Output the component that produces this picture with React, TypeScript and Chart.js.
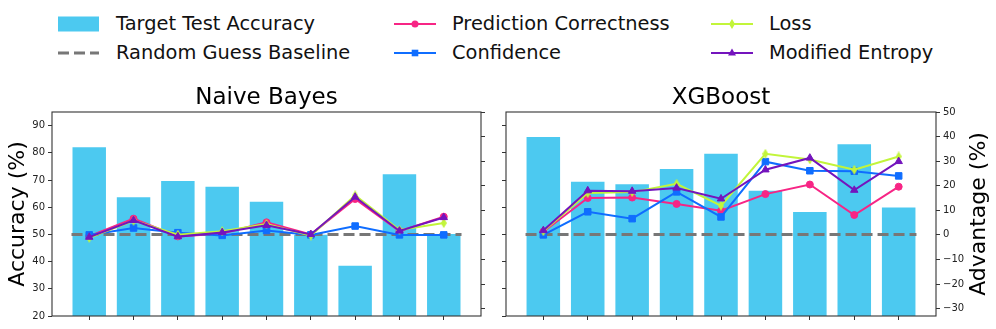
import React, { useEffect, useRef } from 'react';
import { Chart, registerables } from 'chart.js';

Chart.register(...registerables);

// ---------- data ----------
const CATEGORIES = ['D1', 'D2', 'D3', 'D4', 'D5', 'D6', 'D7', 'D8', 'D9'];
const ACC_TICKS = [20, 30, 40, 50, 60, 70, 80, 90];
const ADV_TICKS = [-30, -20, -10, 0, 10, 20, 30, 40, 50];
const BASELINE_ACC = 50;

const NB_ACCURACY = [82.4, 64.0, 70.0, 67.9, 62.4, 50.2, 38.8, 72.5, 50.5];
const NB_PRED_CORRECT = [-0.5, 6.6, -0.6, 0.6, 5.1, 0.2, 14.6, 1.5, 7.4];
const NB_CONFIDENCE = [0.0, 2.8, 0.9, -0.2, 1.8, 0.0, 3.6, 0.0, 0.0];
const NB_LOSS = [-1.2, 5.8, 0.1, 1.5, 4.4, -0.3, 16.1, 2.0, 4.8];
const NB_MOD_ENTROPY = [-0.9, 5.9, -0.7, 1.0, 3.9, 0.2, 15.4, 1.6, 7.1];

const XGB_ACCURACY = [86.2, 69.7, 68.8, 74.4, 80.0, 66.4, 58.6, 83.5, 60.3];
const XGB_PRED_CORRECT = [1.3, 15.0, 15.2, 12.6, 9.8, 16.6, 20.5, 8.1, 19.6];
const XGB_CONFIDENCE = [0.0, 9.4, 6.6, 17.5, 7.3, 29.8, 26.1, 25.9, 24.0];
const XGB_LOSS = [1.5, 17.0, 17.4, 20.8, 11.9, 33.0, 30.7, 26.5, 31.9];
const XGB_MOD_ENTROPY = [1.8, 18.0, 17.8, 19.1, 14.7, 26.5, 31.3, 18.2, 29.9];

// ---------- style ----------
const FONT = "'DejaVu Sans', 'Liberation Sans', sans-serif";
const C_BAR = '#4cc9f0';
const C_PC = '#f72585';
const C_CONF = '#0f6dff';
const C_LOSS = '#c2f53a';
const C_ME = '#7414bd';
const C_BASE = '#777777';
const C_AXIS = '#333333';

function thinDiamond(color: string) {
  const c = document.createElement('canvas');
  c.width = 6;
  c.height = 10;
  const ctx = c.getContext('2d')!;
  ctx.fillStyle = color;
  ctx.beginPath();
  ctx.moveTo(3, 0);
  ctx.lineTo(6, 5);
  ctx.lineTo(3, 10);
  ctx.lineTo(0, 5);
  ctx.closePath();
  ctx.fill();
  return c;
}

const framePlugin = {
  id: 'frame',
  afterDraw(chart: any) {
    const { ctx, chartArea: a } = chart;
    ctx.save();
    ctx.strokeStyle = C_AXIS;
    ctx.lineWidth = 1.1;
    ctx.strokeRect(a.left, a.top, a.right - a.left, a.bottom - a.top);
    ctx.restore();
  },
};

const rightTitlePlugin = {
  id: 'rightTitle',
  afterDraw(chart: any) {
    const { ctx, chartArea: a } = chart;
    ctx.save();
    ctx.translate(chart.width - 17, (a.top + a.bottom) / 2);
    ctx.rotate(-Math.PI / 2);
    ctx.font = `22px ${FONT}`;
    ctx.fillStyle = '#000';
    ctx.textAlign = 'center';
    ctx.textBaseline = 'middle';
    ctx.fillText('Advantage (%)', 0, 0);
    ctx.restore();
  },
};

const CW = 498;
const CH = 251;

function buildConfig(
  title: string,
  acc: number[],
  pc: number[],
  conf: number[],
  loss: number[],
  me: number[],
  side: 'left' | 'right'
) {
  const pts = (arr: number[]) => arr.map((v, i) => ({ x: i, y: v }));
  const n = CATEGORIES.length;
  const half = 0.4;
  const margin = 0.05 * (n - 1 + 2 * half);
  const xMin = -half - margin;
  const xMax = n - 1 + half + margin;
  const tickFont = { family: FONT, size: 10 };
  const lineDs = (label: string, data: number[], color: string, style: any, radius: number, order: number) => ({
    type: 'line',
    label,
    data: pts(data),
    yAxisID: 'y2',
    borderColor: color,
    backgroundColor: color,
    borderWidth: 2,
    pointStyle: style,
    pointRadius: radius,
    pointBorderWidth: 1,
    pointBorderColor: color,
    pointBackgroundColor: color,
    tension: 0,
    order,
  });
  return {
    type: 'bar',
    data: {
      datasets: [
        {
          type: 'bar',
          label: 'Target Test Accuracy',
          data: pts(acc),
          yAxisID: 'y',
          backgroundColor: C_BAR,
          borderColor: 'rgba(255,255,255,0.45)',
          borderWidth: 1,
          barPercentage: 0.8,
          categoryPercentage: 1,
          order: 10,
        },
        {
          type: 'line',
          label: 'Random Guess Baseline',
          data: [
            { x: -half, y: BASELINE_ACC },
            { x: n - 1 + half, y: BASELINE_ACC },
          ],
          yAxisID: 'y',
          borderColor: C_BASE,
          borderWidth: 3,
          borderDash: [11, 5],
          pointRadius: 0,
          order: 9,
        },
        lineDs('Prediction Correctness', pc, C_PC, 'circle', 3.5, 4),
        lineDs('Confidence', conf, C_CONF, 'rect', 4.6, 3),
        lineDs('Loss', loss, C_LOSS, thinDiamond(C_LOSS), 4, 2),
        lineDs('Modified Entropy', me, C_ME, 'triangle', 4.3, 1),
      ],
    },
    options: {
      animation: false,
      responsive: false,
      maintainAspectRatio: false,
      layout: { padding: 0 },
      plugins: {
        legend: { display: false },
        tooltip: { enabled: false },
        title: {
          display: true,
          text: title,
          fullSize: false,
          color: '#000',
          font: { family: FONT, size: 23, weight: 'normal', lineHeight: 1.2 },
          padding: { top: 6, bottom: 0.4 },
        },
      },
      scales: {
        x: {
          type: 'linear',
          min: xMin,
          max: xMax,
          offset: false,
          afterBuildTicks: (s: any) => {
            s.ticks = CATEGORIES.map((_, i) => ({ value: i }));
          },
          afterFit: (s: any) => {
            s.height = 13;
          },
          ticks: { callback: () => '', maxRotation: 0, autoSkip: false, font: tickFont },
          grid: { drawOnChartArea: false, drawTicks: true, tickLength: 4, color: C_AXIS, offset: false },
          border: { display: false },
        },
        y: {
          type: 'linear',
          position: 'left',
          min: 20,
          max: 95,
          afterBuildTicks: (s: any) => {
            s.ticks = ACC_TICKS.map((v) => ({ value: v }));
          },
          afterFit: (s: any) => {
            s.width = side === 'left' ? 52 : 8;
          },
          ticks: {
            font: tickFont,
            color: '#222',
            padding: 3,
            callback: (v: any) => (side === 'left' ? String(v) : ''),
          },
          grid: { drawOnChartArea: false, drawTicks: true, tickLength: 4, color: C_AXIS },
          border: { display: false },
          title:
            side === 'left'
              ? {
                  display: true,
                  text: 'Accuracy (%)',
                  color: '#000',
                  font: { family: FONT, size: 22, lineHeight: 1.2 },
                  padding: { top: 5, bottom: 0 },
                }
              : { display: false },
        },
        y2: {
          type: 'linear',
          position: 'right',
          min: -33,
          max: 50,
          afterBuildTicks: (s: any) => {
            s.ticks = ADV_TICKS.map((v) => ({ value: v }));
          },
          afterFit: (s: any) => {
            s.width = side === 'left' ? 17 : 60;
          },
          ticks: {
            font: tickFont,
            color: '#222',
            padding: 3,
            callback: (v: any) => (side === 'right' ? (v < 0 ? '\u2212' + Math.abs(v) : String(v)) : ''),
          },
          grid: { drawOnChartArea: false, drawTicks: true, tickLength: 4, color: C_AXIS },
          border: { display: false },
        },
      },
    },
    plugins: side === 'right' ? [framePlugin, rightTitlePlugin] : [framePlugin],
  };
}

function ChartPanel({ make, left }: { make: () => any; left: number }) {
  const ref = useRef<HTMLCanvasElement | null>(null);
  useEffect(() => {
    const chart = new Chart(ref.current as HTMLCanvasElement, make());
    return () => chart.destroy();
  }, []);
  return (
    <canvas
      ref={ref}
      width={CW}
      height={CH}
      style={{ position: 'absolute', left, top: 78, width: CW, height: CH }}
    />
  );
}

type LegendKind = 'bar' | 'dash' | 'circle' | 'square' | 'diamond' | 'triangle';

function Handle({ kind, color }: { kind: LegendKind; color: string }) {
  const w = 42;
  const h = 24;
  const cy = h / 2;
  const cx = w / 2;
  let marker: any = null;
  if (kind === 'circle') marker = <circle cx={cx} cy={cy} r={3.5} fill={color} />;
  if (kind === 'square') marker = <rect x={cx - 3.3} y={cy - 3.3} width={6.6} height={6.6} fill={color} />;
  if (kind === 'diamond')
    marker = <polygon points={`${cx},${cy - 5} ${cx + 3},${cy} ${cx},${cy + 5} ${cx - 3},${cy}`} fill={color} />;
  if (kind === 'triangle')
    marker = <polygon points={`${cx},${cy - 4.5} ${cx + 4},${cy + 2.5} ${cx - 4},${cy + 2.5}`} fill={color} />;
  return (
    <svg width={w} height={h} style={{ display: 'block', flex: 'none' }}>
      {kind === 'bar' && <rect x={0} y={cy - 7.5} width={41} height={15} fill={color} />}
      {kind === 'dash' && (
        <line x1={0} y1={cy} x2={41} y2={cy} stroke={color} strokeWidth={3} strokeDasharray="11 5" />
      )}
      {kind !== 'bar' && kind !== 'dash' && (
        <line x1={0} y1={cy} x2={w} y2={cy} stroke={color} strokeWidth={2} />
      )}
      {marker}
    </svg>
  );
}

const LEGEND_ITEMS: { label: string; kind: LegendKind; color: string; x: number; y: number }[] = [
  { label: 'Target Test Accuracy', kind: 'bar', color: C_BAR, x: 58, y: 24 },
  { label: 'Random Guess Baseline', kind: 'dash', color: C_BASE, x: 58, y: 53 },
  { label: 'Prediction Correctness', kind: 'circle', color: C_PC, x: 394, y: 24 },
  { label: 'Confidence', kind: 'square', color: C_CONF, x: 394, y: 53 },
  { label: 'Loss', kind: 'diamond', color: C_LOSS, x: 711, y: 24 },
  { label: 'Modified Entropy', kind: 'triangle', color: C_ME, x: 711, y: 53 },
];

export default function App() {
  return (
    <div
      style={{
        position: 'absolute',
        left: 0,
        top: 0,
        width: 996,
        height: 329,
        background: '#fff',
        overflow: 'hidden',
        fontFamily: FONT,
      }}
    >
      {LEGEND_ITEMS.map((it) => (
        <div
          key={it.label}
          style={{
            position: 'absolute',
            left: it.x,
            top: it.y - 12,
            height: 24,
            display: 'flex',
            alignItems: 'center',
            whiteSpace: 'nowrap',
          }}
        >
          <Handle kind={it.kind} color={it.color} />
          <span style={{ marginLeft: 16, fontSize: 19.4, color: '#111', lineHeight: '24px' }}>{it.label}</span>
        </div>
      ))}
      <ChartPanel
        left={0}
        make={() =>
          buildConfig('Naive Bayes', NB_ACCURACY, NB_PRED_CORRECT, NB_CONFIDENCE, NB_LOSS, NB_MOD_ENTROPY, 'left')
        }
      />
      <ChartPanel
        left={498}
        make={() =>
          buildConfig('XGBoost', XGB_ACCURACY, XGB_PRED_CORRECT, XGB_CONFIDENCE, XGB_LOSS, XGB_MOD_ENTROPY, 'right')
        }
      />
    </div>
  );
}
